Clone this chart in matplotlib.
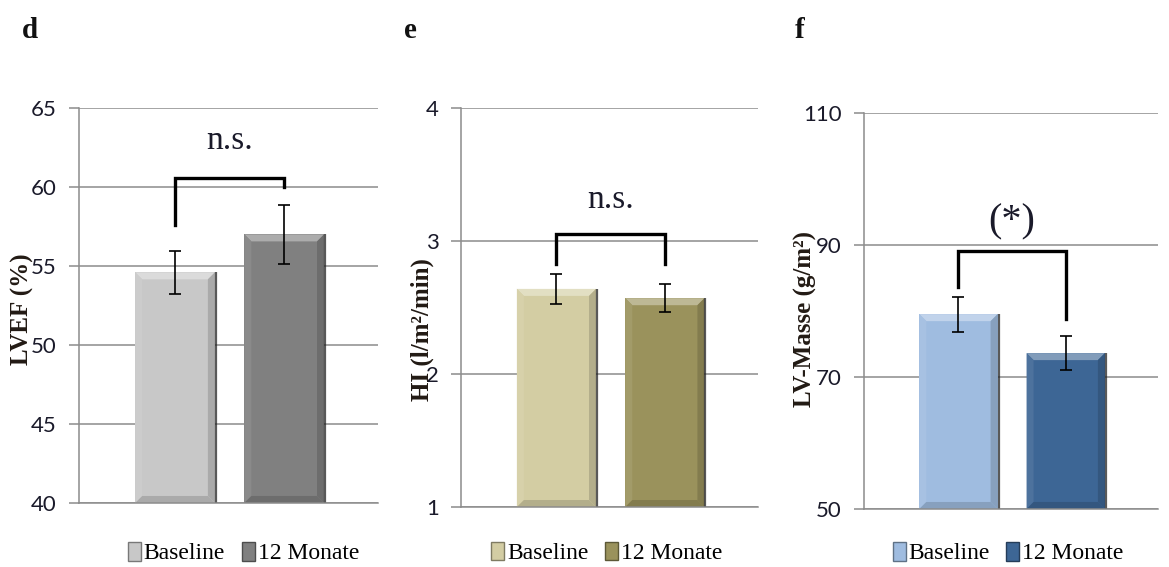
import matplotlib
matplotlib.use('Agg')
import matplotlib.pyplot as plt
import matplotlib.colors as mcolors
from matplotlib.patches import Polygon, Patch
import numpy as np

# Gruppen
groups = ['Baseline', '12 Monate']

# LVEF (%)
lvef_mean = [54.6, 57.0]
lvef_err = [1.35, 1.85]

# Herzindex (l/m²/min)
hi_mean = [2.64, 2.57]
hi_err = [0.11, 0.105]

# LV-Masse (g/m²)
lvm_mean = [79.5, 73.6]
lvm_err = [2.65, 2.55]

SERIF = 'Liberation Serif'
TICKFONT = 'Lato'


def bevel_bars(ax, bars, color):
    """Bevel-Effekt auf die Balken legen (hell oben, dunkel rechts)"""
    rgb = np.array(mcolors.to_rgb(color))
    light = rgb + (1 - rgb) * 0.35
    side = rgb + (1 - rgb) * 0.08
    dark = rgb * 0.85
    inv = ax.transData.inverted()
    b = 7  # Breite der Kante in Pixel
    for p in bars:
        x, y, w, h = p.get_x(), p.get_y(), p.get_width(), p.get_height()
        (x0, y0), (x1, y1) = ax.transData.transform([(x, y), (x + w, y + h)])
        o = [(x0, y0), (x1, y0), (x1, y1), (x0, y1)]
        i = [(x0 + b, y0 + b), (x1 - b, y0 + b), (x1 - b, y1 - b), (x0 + b, y1 - b)]
        faces = [
            ([o[3], o[2], i[2], i[3]], light),
            ([o[0], o[3], i[3], i[0]], side),
            ([o[1], o[2], i[2], i[1]], dark),
            ([o[0], o[1], i[1], i[0]], dark),
        ]
        for pts, c in faces:
            ax.add_patch(Polygon(inv.transform(pts), closed=True, fc=c, ec='none', zorder=2.1))
        # Schattenkante rechts
        sx = inv.transform([(x1 + 1, y0), (x1 + 1, y1)])
        ax.plot(sx[:, 0], sx[:, 1], color='#222222', lw=1.6, alpha=0.75, zorder=2.2,
                solid_capstyle='butt')


def draw_panel(ax, means, errs, colors, ylim, yticks, ylabel, label_x, label_y,
               bracket_top, bracket_legs, sig_text, sig_y, sig_size, legend_x, legend_y):
    ax.set_xlim(-0.88, 1.86)
    ax.set_ylim(*ylim)
    ax.set_yticks(yticks)
    ax.set_xticks([])
    ax.set_axisbelow(True)
    ax.grid(axis='y', color='#8c8c8c', linewidth=1.1)
    for s in ['top', 'right']:
        ax.spines[s].set_visible(False)
    ax.spines['left'].set_color('#8c8c8c')
    ax.spines['bottom'].set_color('#8c8c8c')
    ax.spines['left'].set_linewidth(1.1)
    ax.spines['bottom'].set_linewidth(1.1)
    ax.tick_params(axis='y', length=7, width=1.1, color='#8c8c8c', pad=9,
                   labelsize=16, labelcolor='#1a1a2a')
    for t in ax.get_yticklabels():
        t.set_fontfamily(TICKFONT)

    x = np.arange(len(means))
    bars = ax.bar(x, np.array(means) - ylim[0], bottom=ylim[0], width=0.73,
                  color=colors, zorder=2)
    for p, c in zip(bars, colors):
        bevel_bars(ax, [p], c)
    ax.errorbar(x, means, yerr=errs, fmt='none', ecolor='black', elinewidth=1.2,
                capsize=4.5, capthick=1.2, zorder=3)

    # Signifikanz-Klammer
    ax.plot([x[0], x[0], x[1], x[1]],
            [bracket_legs[0], bracket_top, bracket_top, bracket_legs[1]],
            color='black', lw=2.4, solid_joinstyle='miter', zorder=3)
    ax.text(x.mean(), sig_y, sig_text, ha='center', va='center',
            fontsize=sig_size, family=SERIF, color='#1a1a2a')

    ax.text(label_x, label_y, ylabel, transform=ax.transAxes, rotation=90,
            ha='center', va='center', fontsize=18, fontweight='bold',
            family=SERIF, color='#221a14')

    handles = [Patch(facecolor=c, edgecolor=mcolors.to_rgb(c) * np.array(0.6)) for c in colors]
    ax.legend(handles, groups, loc='center', bbox_to_anchor=(legend_x, legend_y),
              ncol=2, frameon=False, handlelength=0.55, handleheight=0.85,
              handletextpad=0.12, columnspacing=0.7,
              prop={'family': SERIF, 'size': 17})


fig = plt.figure(figsize=(11.69, 5.67), dpi=100)

ax_d = fig.add_axes([0.0676, 0.1129, 0.2558, 0.6966])
draw_panel(ax_d, lvef_mean, lvef_err, ['#c8c8c8', '#808080'],
           (40, 65), [40, 45, 50, 55, 60, 65], 'LVEF (%)', -0.19, 0.49,
           60.6, [57.6, 60.0], 'n.s.', 62.9, 24, 0.55, -0.127)

ax_e = fig.add_axes([0.3944, 0.1058, 0.2541, 0.7037])
draw_panel(ax_e, hi_mean, hi_err, ['#d3cda3', '#9a925c'],
           (1, 4), [1, 2, 3, 4], 'HI (l/m²/min)', -0.13, 0.445,
           3.05, [2.83, 2.83], 'n.s.', 3.31, 24, 0.49, -0.115)

ax_f = fig.add_axes([0.7391, 0.1023, 0.2515, 0.699])
draw_panel(ax_f, lvm_mean, lvm_err, ['#9fbce0', '#3d6695'],
           (50, 110), [50, 70, 90, 110], 'LV-Masse (g/m²)', -0.2, 0.48,
           89.0, [83.6, 78.7], '(*)', 93.5, 29, 0.49, -0.111)

for letter, xpos in [('d', 30), ('e', 410), ('f', 800)]:
    fig.text(xpos / 1169, 1 - 30 / 567, letter, fontsize=21, fontweight='bold',
             family=SERIF, ha='center', va='center', color='#111111')

fig.savefig('out.png', dpi=100)
